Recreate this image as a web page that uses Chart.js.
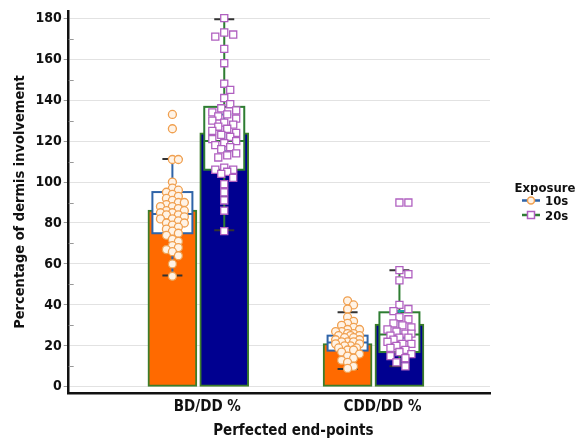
<!DOCTYPE html>
<html>
<head>
<meta charset="utf-8">
<script src="https://cdn.jsdelivr.net/npm/chart.js@4.4.1/dist/chart.umd.min.js"></script>
<style>
  body { margin: 0; background: #fff; }
  #wrap { width: 577px; height: 441px; }
</style>
</head>
<body>
<div id="wrap"><canvas id="chartBox" width="577" height="441"></canvas></div>
<script>
/* data */
const categories = ['BD/DD %', 'CDD/DD %'];
const yTicks = [0, 20, 40, 60, 80, 100, 120, 140, 160, 180];
const series = ['10s', '20s'];

const mean10 = [86.3, 21.1];
const mean20 = [124, 30.7];

const q1_10 = [75, 17.7];
const med10 = [84.4, 21.6];
const q3_10 = [95.1, 25];
const lo10 = [54.4, 8.7];
const hi10 = [111.2, 36.4];
const ciLo10 = [81.4, 19];
const ciHi10 = [90.4, 23.5];

const q1_20 = [106, 17];
const med20 = [120, 25.5];
const q3_20 = [136.7, 36.4];
const lo20 = [76.5, 10];
const hi20 = [179.5, 56.9];
const ciLo20 = [115, 24];
const ciHi20 = [133, 37];

const pts10BD = [133, 126, 111, 111, 100, 97, 96, 95, 94, 93, 92, 91, 90, 90, 89, 88, 88, 87, 86, 86, 85, 85, 84, 84, 83, 82, 82, 81, 80, 80, 79, 78, 77, 76, 75, 74, 72, 71, 69, 68, 67, 66, 64, 60, 54];
const pts10CDD = [42, 40, 38, 34, 32, 31, 30, 29, 28, 28, 27, 27, 26, 26, 25, 25, 25, 24, 24, 23, 23, 22, 22, 22, 21, 21, 20, 20, 19, 19, 18, 18, 17, 16, 15, 14, 13, 12, 10, 9];
const pts20BD = [180, 173, 172, 171, 165, 158, 148, 145, 141, 138, 136, 135, 134, 133, 132, 131, 130, 129, 128, 127, 126, 125, 124, 123, 122, 121, 120, 119, 118, 117, 116, 114, 113, 112, 107, 106, 106, 105, 104, 102, 99, 95, 91, 86, 76];
const pts20CDD = [90, 90, 57, 55, 52, 40, 38, 37, 34, 33, 31, 30, 29, 28, 27, 26, 26, 25, 24, 24, 23, 22, 21, 21, 20, 19, 18, 17, 16, 15, 14, 12, 10];

/* layout */
const catX = [1, 2];
const shift = 0.148;
const pxX = 176, pxY = 2.04;
const FONT = "'Liberation Sans Narrow', 'DejaVu Sans Condensed', 'Arial Narrow', sans-serif";

const orange = '#ff6a00';
const navy = '#000090';
const barEdge = '#3c7d2a';
const box10 = '#2f64a8';
const box20 = '#2e7d32';
const teal = '#1fa3a3';

// beeswarm, kept narrow like the original (points may overlap)
function swarm(values, cx, d) {
    const placed = [];
    const out = [];
    const step = 3, maxOff = 14;
    values.slice().sort((a, b) => b - a).forEach(v => {
        const py = v * pxY;
        let best = 0, bestDist = -1;
        for (let k = 0; ; k++) {
            const off = (k % 2 ? 1 : -1) * Math.ceil(k / 2) * step;
            if (Math.abs(off) > maxOff) break;
            let m = Infinity;
            placed.forEach(p => { m = Math.min(m, Math.hypot(p.x - off, p.y - py)); });
            if (m >= d) { best = off; bestDist = m; break; }
            if (m > bestDist) { bestDist = m; best = off; }
        }
        placed.push({x: best, y: py});
        out.push({x: cx + best / pxX, y: v});
    });
    return out;
}

function drawIcon(ctx, x, y, lineColor, marker) {
    ctx.strokeStyle = lineColor; ctx.lineWidth = 2.5;
    ctx.beginPath(); ctx.moveTo(x - 9, y); ctx.lineTo(x + 9, y); ctx.stroke();
    ctx.lineWidth = 1.5;
    if (marker === 'circle') {
        ctx.fillStyle = '#fff3e6'; ctx.strokeStyle = '#f0a050';
        ctx.beginPath(); ctx.arc(x, y, 3.5, 0, Math.PI * 2); ctx.fill(); ctx.stroke();
    } else {
        ctx.fillStyle = '#fff'; ctx.strokeStyle = '#b060c0';
        ctx.fillRect(x - 3.5, y - 3.5, 7, 7); ctx.strokeRect(x - 3.5, y - 3.5, 7, 7);
    }
}

const boxPlugin = {
    id: 'boxes',
    afterDatasetDraw(chart, args) {
        if (args.index !== 0) return;
        const ctx = chart.ctx;
        const xs = chart.scales.x, ys = chart.scales.y;
        const groups = [
            {q1: q1_10, med: med10, q3: q3_10, lo: lo10, hi: hi10, cl: ciLo10, ch: ciHi10, col: box10, dx: -shift},
            {q1: q1_20, med: med20, q3: q3_20, lo: lo20, hi: hi20, cl: ciLo20, ch: ciHi20, col: box20, dx: shift}
        ];
        ctx.save();
        groups.forEach(g => {
            catX.forEach((c, i) => {
                const x = xs.getPixelForValue(c + g.dx);
                const yq1 = ys.getPixelForValue(g.q1[i]);
                const yq3 = ys.getPixelForValue(g.q3[i]);
                const ym = ys.getPixelForValue(g.med[i]);
                const yl = ys.getPixelForValue(g.lo[i]);
                const yh = ys.getPixelForValue(g.hi[i]);
                const hw = 20;
                ctx.lineWidth = 2;
                ctx.strokeStyle = g.col;
                // whiskers
                ctx.beginPath();
                ctx.moveTo(x, yq3); ctx.lineTo(x, yh);
                ctx.moveTo(x, yq1); ctx.lineTo(x, yl);
                ctx.stroke();
                // box
                ctx.fillStyle = '#fff';
                ctx.fillRect(x - hw, yq3, hw * 2, yq1 - yq3);
                ctx.strokeRect(x - hw, yq3, hw * 2, yq1 - yq3);
                ctx.beginPath();
                ctx.moveTo(x - hw, ym); ctx.lineTo(x + hw, ym);
                ctx.stroke();
                // caps
                ctx.strokeStyle = '#333';
                ctx.beginPath();
                ctx.moveTo(x - 10, yh); ctx.lineTo(x + 10, yh);
                ctx.moveTo(x - 10, yl); ctx.lineTo(x + 10, yl);
                ctx.stroke();
                // confidence interval
                const ycl = ys.getPixelForValue(g.cl[i]);
                const ych = ys.getPixelForValue(g.ch[i]);
                ctx.strokeStyle = teal;
                ctx.beginPath();
                ctx.moveTo(x, ycl); ctx.lineTo(x, ych);
                ctx.moveTo(x - 7, ycl); ctx.lineTo(x + 7, ycl);
                ctx.moveTo(x - 7, ych); ctx.lineTo(x + 7, ych);
                ctx.stroke();
            });
        });
        // minor tick marks on the y axis
        ctx.strokeStyle = '#999';
        ctx.lineWidth = 1;
        for (let v = 10; v <= 170; v += 20) {
            const y = Math.round(ys.getPixelForValue(v)) + 0.5;
            ctx.beginPath();
            ctx.moveTo(xs.left, y); ctx.lineTo(xs.left + 5, y);
            ctx.stroke();
        }
        ctx.restore();
    },
    afterDraw(chart) {
        const ctx = chart.ctx;
        const area = chart.chartArea;
        ctx.save();
        ctx.fillStyle = '#111';
        // x axis title, sits a little right of centre in the original
        ctx.font = "bold 15px " + FONT;
        ctx.textAlign = 'center';
        ctx.textBaseline = 'alphabetic';
        ctx.fillText('Perfected end-points', (area.left + area.right) / 2 + 14, 435);
        // legend
        const lx = area.right + 55;
        ctx.font = "bold 13px " + FONT;
        ctx.fillText('Exposure', lx, 192);
        ctx.textAlign = 'left';
        ctx.fillText(series[0], lx, 205);
        ctx.fillText(series[1], lx, 219.5);
        drawIcon(ctx, lx - 14, 200.5, box10, 'circle');
        drawIcon(ctx, lx - 14, 215, box20, 'rect');
        ctx.restore();
    }
};

const barData = [
    {x: catX[0] - shift, y: mean10[0]},
    {x: catX[0] + shift, y: mean20[0]},
    {x: catX[1] - shift, y: mean10[1]},
    {x: catX[1] + shift, y: mean20[1]}
];

const ctx = document.getElementById('chartBox');
new Chart(ctx, {
    type: 'bar',
    data: {
        datasets: [{
            type: 'bar',
            label: 'mean',
            data: barData,
            backgroundColor: [orange, navy, orange, navy],
            borderColor: barEdge,
            borderWidth: 2,
            borderSkipped: false,
            barThickness: 49,
            grouped: false,
            order: 5
        }, {
            type: 'scatter',
            label: series[0],
            data: swarm(pts10BD, catX[0] - shift, 6).concat(swarm(pts10CDD, catX[1] - shift, 6)),
            pointStyle: 'circle',
            pointRadius: 4,
            pointBorderWidth: 1.3,
            backgroundColor: '#fff3e6',
            borderColor: '#f0a050',
            order: 1
        }, {
            type: 'scatter',
            label: series[1],
            data: swarm(pts20BD, catX[0] + shift, 8).concat(swarm(pts20CDD, catX[1] + shift, 8)),
            pointStyle: 'rect',
            pointRadius: 5,
            pointBorderWidth: 1.3,
            backgroundColor: '#ffffff',
            borderColor: '#b060c0',
            order: 1
        }]
    },
    options: {
        responsive: false,
        animation: false,
        layout: { padding: { top: 11, right: 87, left: 8, bottom: 20 } },
        scales: {
            x: {
                type: 'linear',
                offset: false,
                min: 0.26,
                max: 2.665,
                afterBuildTicks: s => { s.ticks = catX.map(v => ({value: v})); },
                ticks: {
                    callback: v => categories[catX.indexOf(v)] || '',
                    color: '#111',
                    font: { family: FONT, size: 15, weight: 'bold' },
                    padding: 5,
                    labelOffset: 9
                },
                grid: { display: false, drawTicks: false },
                border: { color: '#111', width: 2.5 }
            },
            y: {
                min: -3,
                max: 183.5,
                afterBuildTicks: s => { s.ticks = yTicks.map(v => ({value: v})); },
                ticks: {
                    color: '#111',
                    font: { family: FONT, size: 14, weight: 'bold' },
                    padding: 2
                },
                grid: { color: '#e2e2e2', tickLength: 5, tickColor: '#999' },
                border: { color: '#111', width: 2.5 },
                title: {
                    display: true,
                    text: 'Percentage of dermis involvement',
                    color: '#111',
                    font: { family: FONT, size: 14.5, weight: 'bold' },
                    padding: 4
                }
            }
        },
        plugins: {
            tooltip: { enabled: false },
            legend: { display: false }
        }
    },
    plugins: [boxPlugin]
});
</script>
</body>
</html>
